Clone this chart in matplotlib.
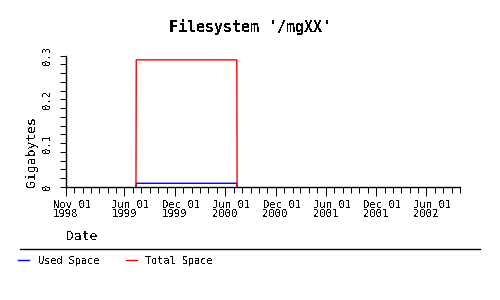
import matplotlib
matplotlib.use("Agg")
import matplotlib.pyplot as plt
import matplotlib.dates as mdates
from matplotlib.lines import Line2D
from matplotlib.transforms import ScaledTranslation
import numpy as np

# data
dates = ['1999-07-13', '1999-07-14', '2000-07-13', '2000-07-14']
used_space = [0.0, 0.0085, 0.0085, 0.0]
total_space = [0.0, 0.29, 0.29, 0.0]

tick_dates = ['1998-11-01', '1999-06-01', '1999-12-01', '2000-06-01',
              '2000-12-01', '2001-06-01', '2001-12-01', '2002-06-01']
x_start, x_end = '1998-11-01', '2002-10-01'
y_ticks = [0, 0.1, 0.2, 0.3]
y_labels = ['0', '0.1', '0.2', '0.3']

plt.rcParams['font.family'] = 'DejaVu Sans Mono'
plt.rcParams['text.antialiased'] = False

px = 0.72  # one pixel at 100 dpi

fig = plt.figure(figsize=(5, 3), dpi=100)
ax = fig.add_axes([66 / 500, 1 - 187 / 300, (460 - 66) / 500, (187 - 55.5) / 300])

x = mdates.date2num(np.array(dates, dtype='datetime64[D]'))
ax.plot(x, used_space, color='#0000ff', lw=1.0, label='Used Space')
ax.plot(x, total_space, color='#ff0000', lw=1.0, label='Total Space')

ax.set_xlim(mdates.date2num(np.datetime64(x_start)), mdates.date2num(np.datetime64(x_end)))
ax.set_ylim(0, 0.3)

for side in ['top', 'right']:
    ax.spines[side].set_visible(False)
for side in ['left', 'bottom']:
    ax.spines[side].set_linewidth(1.0)

tick_pos = mdates.date2num(np.array(tick_dates, dtype='datetime64[D]'))
ax.set_xticks(tick_pos)
ax.set_xticklabels([mdates.num2date(t).strftime('%b %d\n%Y') for t in tick_pos],
                   fontsize=7.6, linespacing=0.95)
ax.xaxis.set_minor_locator(mdates.MonthLocator())
ax.tick_params(axis='x', which='major', direction='out', length=6.5, width=px, pad=2.5)
ax.tick_params(axis='x', which='minor', direction='out', length=4, width=px)
shift = ScaledTranslation(-13 / 100, 0, fig.dpi_scale_trans)
for lbl in ax.get_xticklabels():
    lbl.set_ha('left')
    lbl.set_transform(lbl.get_transform() + shift)

ax.set_yticks(y_ticks)
ax.set_yticklabels(y_labels, fontsize=7.6, rotation=90)
ax.yaxis.set_minor_locator(matplotlib.ticker.MultipleLocator(0.02))
ax.tick_params(axis='y', which='both', direction='out', length=4.5, width=px, pad=5)
for lbl in ax.get_yticklabels():
    lbl.set_va('center')

fig.text(0.5, 1 - 27 / 300, "Filesystem '/mgXX'", ha='center', va='center',
         fontsize=10.8, fontweight='bold')
fig.text(32 / 500, 1 - 187 / 300, 'Gigabytes', rotation=90, ha='center', va='bottom',
         fontsize=9.4)
fig.text(66 / 500, 1 - 236 / 300, 'Date', ha='left', va='center', fontsize=9.4)

fig.add_artist(Line2D([20 / 500, 480 / 500], [1 - 249 / 300] * 2, color='black', lw=1.0))

fig.legend(loc='center left', bbox_to_anchor=(18 / 500, 1 - 260.5 / 300), ncol=2,
           frameon=False, fontsize=7.4, handlelength=1.1, handletextpad=0.8,
           columnspacing=2.6, borderpad=0, borderaxespad=0)

fig.savefig('out.png', dpi=100)
